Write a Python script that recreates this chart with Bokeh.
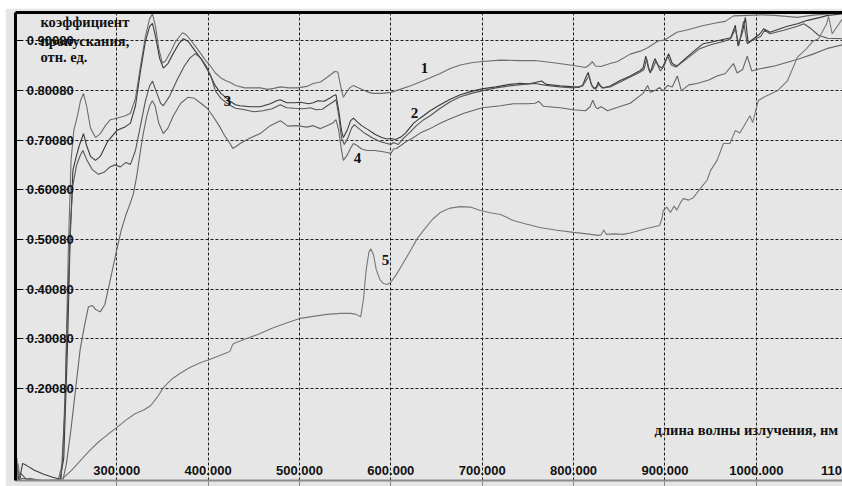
from bokeh.plotting import figure
from bokeh.models import Range1d, LinearAxis, FixedTicker, Grid
from bokeh.core.properties import value
from bokeh.embed import file_html
from bokeh.resources import INLINE

# ---------------- data ----------------
CURVE_1 = [(189.2,0.03),(190.5,0.062),(192,0.035),(195,0.02),(205,0.018),(220,0.016),(236,0.017),(240.6,0.05),(244,0.22),(247,0.48),(250,0.66),(253,0.72),(257,0.75),(260.3,0.78),(263.6,0.795),(267,0.77),(271.3,0.725),(276.7,0.706),(282,0.714),(287.6,0.73),(293,0.742),(300,0.745),(309.5,0.75),(315,0.755),(320.5,0.785),(326,0.85),(331.4,0.91),(336,0.945),(339.1,0.955),(342.4,0.93),(346,0.885),(350,0.856),(353.3,0.86),(358.8,0.878),(364,0.898),(369.7,0.912),(372,0.917),(376,0.913),(381,0.902),(386,0.89),(392,0.875),(397,0.862),(402.5,0.85),(408,0.836),(414,0.826),(420,0.82),(424.4,0.817),(430,0.811),(440,0.806),(446,0.806),(457,0.806),(465,0.803),(472,0.805),(479,0.808),(488,0.806),(498,0.806),(508,0.809),(515,0.815),(523,0.818),(530,0.827),(535,0.834),(538.5,0.839),(542,0.838),(545,0.81),(548,0.787),(551,0.796),(555,0.806),(559,0.811),(566,0.805),(573,0.799),(580,0.795),(590,0.795),(600,0.797),(610,0.803),(621,0.81),(636,0.821),(654,0.835),(665,0.845),(676,0.852),(690,0.857),(700,0.859),(720,0.862),(740,0.861),(758,0.861),(780,0.856),(800,0.851),(813,0.847),(817,0.852),(820.5,0.859),(824,0.85),(830,0.849),(840,0.855),(848,0.859),(862,0.874),(873,0.88),(881,0.887),(892,0.9),(900,0.903),(913,0.918),(925,0.923),(941,0.931),(957,0.937),(966,0.94),(975,0.951),(990,0.952),(1005,0.953),(1020,0.952),(1045,0.948),(1060,0.952),(1078,0.955),(1094.3,0.958)]

CURVE_2 = [(189.2,0.015),(191,0.045),(193,0.012),(197,0.05),(201,0.046),(210,0.036),(220,0.028),(230,0.022),(238,0.018),(242,0.06),(246,0.28),(249,0.5),(252,0.64),(256,0.67),(259,0.69),(261,0.70),(263.6,0.714),(267,0.69),(271.3,0.668),(276.7,0.66),(282,0.668),(290,0.698),(300,0.72),(309.5,0.728),(315,0.735),(320.5,0.77),(326,0.84),(331.4,0.90),(336,0.93),(339.1,0.936),(342.4,0.91),(347,0.865),(351,0.846),(356,0.855),(362,0.876),(368,0.895),(373,0.905),(378,0.90),(384,0.885),(392,0.865),(400,0.84),(408,0.81),(414,0.795),(420,0.786),(425,0.778),(430,0.772),(435,0.77),(446,0.768),(457,0.768),(468,0.774),(475,0.78),(479,0.782),(486,0.776),(495,0.776),(501,0.777),(510,0.774),(515,0.776),(520,0.78),(527,0.779),(533,0.785),(537,0.79),(540,0.792),(543,0.76),(546,0.72),(548,0.706),(552,0.72),(556,0.74),(559,0.745),(563,0.738),(568,0.73),(575,0.722),(583,0.712),(590,0.706),(596,0.703),(600,0.704),(605,0.702),(611,0.707),(616,0.715),(625,0.735),(632,0.745),(643,0.76),(654,0.772),(665,0.783),(676,0.792),(690,0.8),(700,0.804),(715,0.808),(730,0.813),(740,0.815),(750,0.814),(758,0.817),(765,0.82),(770,0.813),(785,0.81),(800,0.808),(806,0.807),(810,0.812),(814,0.83),(816,0.837),(819,0.815),(822,0.805),(825,0.808),(827,0.818),(829,0.81),(833,0.806),(840,0.81),(851,0.821),(862,0.83),(873,0.841),(876,0.846),(879,0.87),(882,0.845),(884,0.836),(887,0.855),(889,0.865),(893,0.85),(897,0.846),(901,0.862),(904,0.875),(908,0.855),(913,0.85),(924,0.868),(935,0.885),(942,0.895),(955,0.9),(972,0.907),(977,0.932),(980,0.89),(985,0.92),(988,0.948),(991,0.897),(997,0.905),(1004,0.915),(1008,0.925),(1015,0.918),(1026,0.925),(1034,0.93),(1045,0.935),(1056,0.942),(1070,0.948),(1078,0.952),(1094.3,0.955)]

CURVE_3 = [(189.2,0.02),(190,0.04),(191.5,0.01),(195,0.03),(200,0.02),(210,0.012),(225,0.008),(233,0.012),(239,0.016),(243,0.15),(246,0.35),(249,0.52),(252,0.61),(256,0.65),(260,0.67),(263,0.68),(267,0.662),(273,0.642),(280,0.632),(286,0.636),(292,0.646),(298,0.651),(304,0.647),(310,0.656),(315,0.652),(320.5,0.68),(326,0.73),(331.4,0.78),(336,0.81),(339.1,0.82),(343,0.80),(348,0.775),(351,0.77),(358,0.79),(366,0.822),(374,0.85),(380,0.866),(386,0.875),(392,0.866),(398,0.85),(403,0.83),(408,0.80),(414,0.785),(420,0.776),(425,0.77),(430,0.765),(440,0.762),(450,0.758),(460,0.76),(470,0.764),(479,0.772),(486,0.766),(495,0.765),(505,0.764),(512,0.766),(518,0.762),(525,0.763),(532,0.772),(537,0.778),(540,0.782),(543,0.75),(546,0.705),(549,0.692),(553,0.705),(557,0.725),(560,0.732),(565,0.724),(572,0.714),(580,0.705),(588,0.698),(596,0.694),(600,0.692),(603,0.696),(608,0.692),(614,0.705),(620,0.715),(628,0.73),(636,0.742),(643,0.75),(654,0.765),(665,0.778),(676,0.788),(690,0.796),(700,0.80),(715,0.806),(730,0.81),(745,0.813),(758,0.815),(770,0.811),(785,0.808),(800,0.806),(810,0.81),(815,0.825),(817,0.83),(820,0.81),(824,0.803),(828,0.815),(831,0.806),(840,0.808),(851,0.818),(862,0.828),(873,0.838),(877,0.843),(880,0.865),(883,0.84),(886,0.842),(890,0.86),(895,0.84),(899,0.85),(903,0.87),(907,0.852),(912,0.848),(924,0.865),(938,0.885),(950,0.893),(965,0.9),(972,0.905),(977,0.925),(981,0.892),(986,0.94),(990,0.895),(996,0.902),(1005,0.91),(1009,0.922),(1015,0.915),(1030,0.922),(1045,0.93),(1052,0.935),(1060,0.925),(1068,0.912),(1078,0.906),(1094.3,0.905)]

CURVE_4 = [(189.2,0.01),(195,0.012),(205,0.02),(215,0.016),(225,0.01),(235,0.012),(241,0.016),(245,0.05),(250,0.12),(255,0.2),(260,0.28),(265,0.33),(269,0.365),(273,0.368),(277,0.36),(282,0.355),(287,0.37),(293,0.42),(300,0.48),(305,0.52),(310,0.55),(315,0.575),(318.3,0.593),(322,0.63),(326,0.68),(329,0.714),(333,0.75),(336,0.77),(339,0.78),(342,0.77),(346,0.735),(351,0.714),(356,0.725),(362,0.75),(370,0.775),(378,0.787),(385,0.785),(392,0.775),(399,0.765),(405,0.75),(412,0.73),(418,0.71),(424,0.694),(427,0.684),(432,0.69),(435,0.694),(446,0.705),(457,0.714),(468,0.73),(479,0.74),(483,0.735),(487,0.729),(497,0.73),(508,0.727),(515,0.73),(520,0.726),(523,0.724),(530,0.73),(537,0.736),(540,0.742),(543,0.72),(546,0.68),(548,0.66),(552,0.67),(556,0.685),(559,0.694),(563,0.69),(568,0.683),(574,0.68),(582,0.68),(590,0.678),(596,0.676),(600,0.674),(603,0.683),(606,0.684),(611,0.69),(616,0.697),(624,0.705),(632,0.715),(643,0.724),(654,0.735),(665,0.744),(680,0.755),(700,0.766),(720,0.77),(734,0.774),(750,0.774),(758,0.775),(762,0.779),(767,0.769),(785,0.766),(800,0.762),(813,0.76),(818,0.768),(821,0.781),(824,0.768),(826,0.764),(830,0.768),(833,0.765),(837,0.76),(850,0.768),(862,0.775),(876,0.795),(881,0.811),(884,0.797),(890,0.802),(894,0.807),(898,0.80),(903,0.811),(908,0.808),(913.5,0.83),(918,0.80),(926,0.812),(935,0.815),(948,0.822),(957,0.83),(966,0.835),(975,0.855),(979,0.836),(985,0.843),(990,0.87),(995,0.84),(1005,0.845),(1020,0.85),(1035,0.858),(1048,0.865),(1062,0.874),(1077,0.885),(1094.3,0.893)]

CURVE_5 = [(189.2,0.005),(192,0.05),(194,0.02),(198,0.012),(215,0.01),(230,0.012),(236,0.016),(241,0.02),(250,0.035),(260,0.055),(270,0.075),(280,0.093),(290,0.108),(300,0.122),(310,0.137),(320,0.15),(330,0.158),(337,0.166),(345,0.185),(351,0.202),(356,0.212),(362,0.222),(370,0.232),(380,0.243),(392,0.253),(400,0.258),(410,0.265),(421,0.273),(424,0.276),(427,0.29),(430,0.293),(440,0.3),(455,0.31),(470,0.322),(485,0.332),(501,0.342),(515,0.346),(530,0.35),(545,0.352),(556,0.352),(562,0.35),(567,0.345),(570,0.38),(573,0.44),(576,0.475),(578,0.482),(581,0.47),(584,0.44),(588,0.42),(592,0.412),(596,0.41),(600,0.415),(606,0.43),(614,0.455),(622,0.48),(629,0.503),(637,0.522),(646,0.542),(654,0.555),(665,0.564),(676,0.567),(687,0.566),(698,0.559),(710,0.554),(720,0.551),(734,0.539),(748,0.532),(763,0.525),(780,0.52),(800,0.515),(815,0.512),(826,0.509),(830,0.51),(833,0.52),(836,0.511),(845,0.512),(854,0.511),(862,0.514),(870,0.518),(880,0.523),(894,0.529),(897,0.545),(898,0.559),(902,0.566),(906,0.555),(910,0.568),(913,0.56),(917,0.575),(920,0.583),(926,0.58),(931,0.585),(939,0.604),(946,0.62),(950,0.64),(957,0.66),(964,0.694),(971,0.694),(977,0.72),(982,0.715),(993,0.75),(996,0.736),(1002,0.78),(1008,0.787),(1023,0.80),(1034,0.82),(1045,0.868),(1055,0.885),(1062,0.90),(1068,0.905),(1077,0.935),(1079,0.95),(1083,0.915),(1094.3,0.945)]

CURVES = [CURVE_1, CURVE_2, CURVE_3, CURVE_4, CURVE_5]
CURVE_NAMES = ["1", "2", "3", "4", "5"]

X_TICKS = [300, 400, 500, 600, 700, 800, 900, 1000, 1100]
Y_TICKS = [0.2008, 0.3008, 0.4008, 0.5008, 0.6008, 0.7008, 0.8008, 0.9008]

Y_TITLE = ["коэффициент", "пропускания,", "отн. ед."]
X_TITLE = "длина волны излучения, нм"

# ---------------- layout / style ----------------
X_START, X_END = 189.2, 1094.3
Y_START, Y_END = 0.0155, 0.9578
BG = "#e6e6e6"
LINE_COLORS = ["#6e6e6e", "#3a3a3a", "#555555", "#666666", "#777777"]
# curve-number label anchors (wavelength, transmittance)
NUM_POS = [(636.8, 0.847), (625.8, 0.756), (421.1, 0.780), (563.4, 0.664), (594.1, 0.460)]
YLAB_X = 201.5       # left edge of y tick labels
XLAB_Y = 0.036       # vertical centre of x tick labels
YT_X = 216.5         # left edge of y title lines
YT_Y = [0.9377, 0.9014, 0.8690]
XT_X, XT_Y = 1089.5, 0.1162

p = figure(width=837, height=478, output_backend="svg", toolbar_location=None,
           x_range=Range1d(X_START, X_END), y_range=Range1d(Y_START, Y_END),
           x_axis_type=None, y_axis_type=None,
           min_border_left=10, min_border_right=0, min_border_top=4, min_border_bottom=6)
p.margin = (8, 0, 0, 5)
p.background_fill_color = BG
p.border_fill_color = BG
p.outline_line_color = None

# grids
p.add_layout(Grid(dimension=0, ticker=FixedTicker(ticks=X_TICKS),
                  grid_line_color="#1e1e1e", grid_line_dash="3 2", grid_line_width=1))
p.add_layout(Grid(dimension=1, ticker=FixedTicker(ticks=Y_TICKS),
                  grid_line_color="#1e1e1e", grid_line_dash="3 2", grid_line_width=1))

# axes: tick marks are drawn as minor ticks so that the axes carry no label texts
bottom = LinearAxis(ticker=FixedTicker(ticks=[], minor_ticks=X_TICKS),
                    axis_line_color="#8c8c8c", axis_line_width=2,
                    minor_tick_line_color="#8c8c8c", minor_tick_out=6, minor_tick_in=0,
                    major_tick_in=0, major_tick_out=0, major_label_standoff=0)
p.add_layout(bottom, "below")
left = LinearAxis(ticker=FixedTicker(ticks=[], minor_ticks=Y_TICKS),
                  axis_line_color="black", axis_line_width=3,
                  minor_tick_line_color="black", minor_tick_in=7, minor_tick_out=0,
                  major_tick_in=0, major_tick_out=0, major_label_standoff=0)
p.add_layout(left, "left")
top = LinearAxis(ticker=FixedTicker(ticks=[], minor_ticks=[]),
                 axis_line_color="black", axis_line_width=3,
                 major_tick_in=0, major_tick_out=0, minor_tick_in=0, minor_tick_out=0,
                 major_label_standoff=0)
p.add_layout(top, "above")

# curves
for pts, col in zip(CURVES, LINE_COLORS):
    xs = [a for a, b in pts]
    ys = [b for a, b in pts]
    p.line(xs, ys, line_color=col, line_width=1.1)

SANS = value("Liberation Sans")
SERIF = value("Liberation Serif")

# tick labels
p.text(x=[YLAB_X] * len(Y_TICKS), y=Y_TICKS, text=[f"{t:.5f}" for t in Y_TICKS],
       text_font=SANS, text_font_style="bold", text_font_size="13px",
       text_align="left", text_baseline="middle", text_color="#111111")
p.text(x=X_TICKS, y=[XLAB_Y] * len(X_TICKS), text=[f"{t:.3f}" for t in X_TICKS],
       text_font=SANS, text_font_style="bold", text_font_size="13px",
       text_align="center", text_baseline="middle", text_color="#111111")

# axis titles
p.text(x=[YT_X] * len(Y_TITLE), y=YT_Y, text=Y_TITLE, text_font=SERIF, text_font_style="bold",
       text_font_size="14.5px", text_align="left", text_baseline="middle", text_color="#111111")
p.text(x=[XT_X], y=[XT_Y], text=[X_TITLE], text_font=SERIF, text_font_style="bold",
       text_font_size="14.5px", text_align="right", text_baseline="middle", text_color="#111111")

# curve numbers
p.text(x=[a for a, b in NUM_POS], y=[b for a, b in NUM_POS], text=CURVE_NAMES,
       text_font=SERIF, text_font_style="bold", text_font_size="15px",
       text_align="center", text_baseline="middle", text_color="#111111")

open("out.html", "w").write(file_html(p, INLINE))
